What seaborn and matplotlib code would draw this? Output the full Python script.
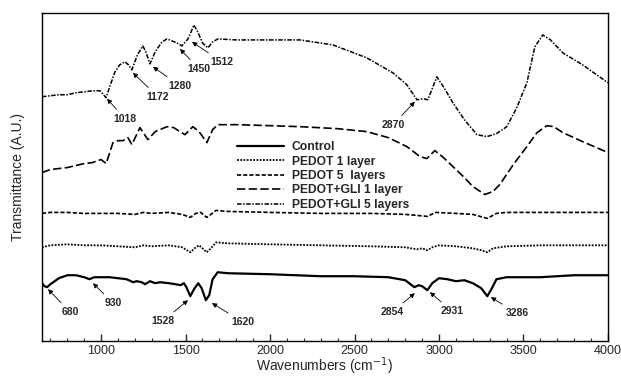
import matplotlib
matplotlib.use("Agg")
import matplotlib.pyplot as plt
import seaborn as sns
import pandas as pd
from matplotlib.ticker import MultipleLocator

# ---- data (wavenumber, transmittance in arbitrary units) ----
control_x = [650, 665, 680, 700, 750, 800, 850, 900, 930, 960, 1000, 1050, 1100, 1150, 1190, 1210, 1240, 1260,
             1290, 1320, 1350, 1400, 1440, 1470, 1490, 1505, 1528, 1550, 1575, 1595, 1620, 1640, 1660, 1690, 1750,
             2000, 2300, 2500, 2700, 2800, 2854, 2880, 2900, 2931, 2960, 3000, 3050, 3100, 3150, 3200, 3250, 3286,
             3310, 3340, 3400, 3600, 3800, 4000]
control_y = [58, 55, 54, 57, 63, 66, 66, 64, 62, 64, 64, 64, 63, 62, 59, 60, 59, 57,
             60, 58, 59, 58, 57, 56, 58, 54, 45, 52, 58, 53, 41, 46, 62, 69, 68,
             67, 65, 65, 64, 61, 54, 56, 55, 51, 58, 63, 62, 60, 61, 58, 53, 45,
             52, 62, 64, 64, 66, 66]

pedot1_x = [650, 700, 800, 900, 1000, 1100, 1200, 1250, 1300, 1400, 1480, 1528, 1560, 1580, 1600, 1625, 1650,
            1680, 1750, 2000, 2300, 2600, 2800, 2870, 2900, 2931, 2960, 3000, 3100, 3200, 3250, 3286, 3320,
            3400, 3600, 4000]
pedot1_y = [94, 96, 97, 96, 96, 95, 94, 96, 95, 96, 94, 89, 94, 96, 93, 89, 93,
            99, 98, 97, 96, 95, 94, 92, 93, 91, 94, 96, 95, 93, 91, 89, 93,
            95, 96, 96]

pedot5_x = [650, 700, 800, 900, 1000, 1100, 1200, 1250, 1300, 1400, 1480, 1528, 1560, 1590, 1625, 1650, 1680,
            1750, 2000, 2300, 2600, 2800, 2870, 2931, 2980, 3100, 3200, 3286, 3340, 3400, 3600, 4000]
pedot5_y = [128, 129, 129, 128, 128, 128, 127, 129, 128, 129, 127, 124, 128, 129, 124, 127, 131,
            130, 129, 128, 128, 127, 126, 125, 129, 128, 127, 123, 128, 129, 129, 129]

gli1_x = [650, 700, 750, 800, 850, 900, 950, 980, 1000, 1030, 1070, 1100, 1130, 1159, 1182, 1230, 1277, 1320,
          1390, 1430, 1467, 1496, 1543, 1580, 1626, 1660, 1691, 1800, 2000, 2177, 2400, 2573, 2700, 2810, 2887,
          2928, 2975, 3020, 3082, 3150, 3200, 3271, 3320, 3360, 3440, 3520, 3580, 3638, 3680, 3733, 3850, 4000]
gli1_y = [169, 172, 173, 174, 176, 178, 179, 181, 182, 178, 199, 201, 201, 204, 197, 214, 202, 210,
          215, 214, 210, 207, 215, 210, 199, 212, 217, 217, 216, 215, 213, 210, 204, 195, 185,
          183, 191, 185, 175, 164, 155, 147, 150, 157, 177, 195, 209, 216, 215, 209, 200, 189]

gli5_x = [650, 700, 750, 800, 850, 900, 950, 993, 1010, 1029, 1055, 1082, 1110, 1141, 1162, 1182, 1215, 1247,
          1265, 1289, 1320, 1360, 1390, 1420, 1449, 1478, 1514, 1530, 1549, 1575, 1600, 1632, 1660, 1691, 1800,
          2000, 2177, 2372, 2573, 2727, 2810, 2869, 2905, 2934, 2987, 3030, 3082, 3150, 3224, 3283, 3340, 3401,
          3460, 3520, 3567, 3614, 3660, 3733, 3850, 4000]
gli5_y = [245, 246, 247, 247, 249, 250, 251, 251, 248, 244, 257, 270, 277, 280, 277, 272, 287, 296,
          290, 278, 290, 300, 303, 301, 299, 296, 303, 309, 317, 309, 299, 294, 300, 303, 302,
          302, 302, 297, 284, 269, 257, 242, 243, 242, 265, 254, 239, 222, 207, 205, 208, 215,
          234, 259, 295, 307, 302, 289, 277, 259]

series_names = ["Control", "PEDOT 1 layer", "PEDOT 5  layers", "PEDOT+GLI 1 layer", "PEDOT+GLI 5 layers"]

# annotations: label, tip (x, y), text (x, y)
ann_labels = ["1018", "1172", "1280", "1450", "1512", "2870", "680", "930", "1528", "1620", "2854", "2931", "3286"]
ann_tip_x = [1035, 1188, 1307, 1467, 1538, 2857, 686, 952, 1514, 1656, 2857, 2946, 3307]
ann_tip_y = [243, 269, 275, 293, 300, 240, 52, 58, 41, 38, 48, 49, 44]
ann_txt_x = [1141, 1336, 1467, 1579, 1715, 2727, 816, 1070, 1366, 1839, 2721, 3076, 3461]
ann_txt_y = [223, 245, 256, 273, 280, 217, 29, 38, 20, 19, 29, 30, 28]

# ---- plot ----
sns.set_style("ticks")
plt.rcParams['font.family'] = ['Liberation Sans', 'DejaVu Sans']

fig = plt.figure(figsize=(6.21, 3.78), dpi=100)
ax = fig.add_axes([0.0676, 0.0978, 0.9114, 0.8678])

xs = [control_x, pedot1_x, pedot5_x, gli1_x, gli5_x]
ys = [control_y, pedot1_y, pedot5_y, gli1_y, gli5_y]
styles = [
    dict(linestyle="-", linewidth=1.6),
    dict(linestyle=(0, (1.0, 0.8)), linewidth=1.3),
    dict(linestyle=(0, (2.5, 1.2)), linewidth=1.2),
    dict(linestyle=(0, (5.0, 2.0)), linewidth=1.2),
    dict(linestyle=(0, (3.0, 1.0, 1.0, 1.0)), linewidth=1.1),
]
for name, x, y, st in zip(series_names, xs, ys, styles):
    df = pd.DataFrame({"x": x, "y": y})
    sns.lineplot(data=df, x="x", y="y", ax=ax, color="black", label=name,
                 estimator=None, sort=True, **st)

for lab, tx, ty, sx, sy in zip(ann_labels, ann_tip_x, ann_tip_y, ann_txt_x, ann_txt_y):
    ax.annotate(lab, xy=(tx, ty), xytext=(sx, sy), ha="center", va="center",
                fontsize=7.5, fontweight="bold",
                arrowprops=dict(arrowstyle="-|>", color="black", lw=0.6,
                                mutation_scale=7, shrinkA=1, shrinkB=0))

ax.set_xlim(650, 4000)
ax.set_ylim(0, 329)
ax.xaxis.set_major_locator(MultipleLocator(500))
ax.xaxis.set_minor_locator(MultipleLocator(100))
ax.set_yticks([])
ax.tick_params(axis="x", which="major", direction="in", length=5, labelsize=9, width=1, pad=3)
ax.tick_params(axis="x", which="minor", direction="in", length=2.5, width=0.8)
for s in ax.spines.values():
    s.set_linewidth(1.0)
    s.set_color("black")

ax.set_xlabel("Wavenumbers (cm$^{-1}$)", fontsize=10, labelpad=-1)
ax.set_ylabel("Transmittance (A.U.)", fontsize=10, labelpad=12)

leg = ax.legend(loc="upper left", bbox_to_anchor=(0.33, 0.635), frameon=False,
                prop=dict(weight="bold", size=8.7), handlelength=3.9, handletextpad=0.6,
                labelspacing=0.2, borderpad=0.2)

fig.savefig("out.png", dpi=100)
